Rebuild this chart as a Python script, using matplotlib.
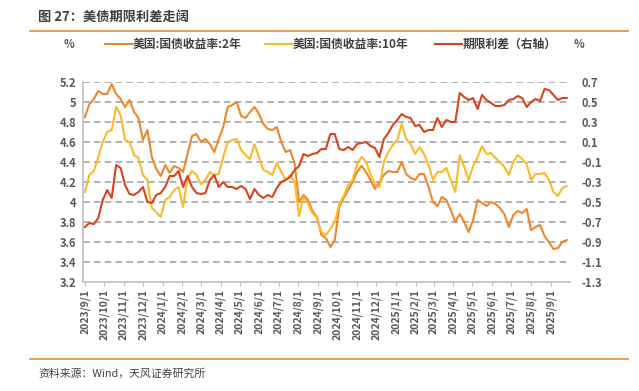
import matplotlib
matplotlib.use('Agg')
import matplotlib.pyplot as plt
from matplotlib.lines import Line2D
import numpy as np
import pandas as pd

plt.rcParams['font.family'] = ['Noto Sans CJK SC', 'DejaVu Sans']

# weekly readings, starting 2023-09-01
dates = pd.date_range('2023-09-01', periods=109, freq='7D')

yield_2y = [
    4.85, 4.98, 5.03, 5.11, 5.08, 5.08, 5.18, 5.08, 5.03, 4.95,
    5.02, 4.90, 4.84, 4.62, 4.72, 4.45, 4.33, 4.26, 4.37, 4.29,
    4.36, 4.34, 4.30, 4.48, 4.66, 4.68, 4.60, 4.63, 4.58, 4.50,
    4.63, 4.75, 4.95, 4.97, 5.00, 4.86, 4.84, 4.90, 4.95, 4.88,
    4.78, 4.73, 4.72, 4.75, 4.60, 4.50, 4.52, 4.38, 4.00, 4.07,
    4.02, 3.91, 3.85, 3.67, 3.64, 3.55, 3.62, 3.95, 4.04, 4.12,
    4.20, 4.30, 4.36, 4.30, 4.22, 4.13, 4.20, 4.27, 4.31, 4.30,
    4.30, 4.40, 4.28, 4.24, 4.22, 4.28, 4.28, 4.15, 4.00, 3.96,
    4.05, 4.02, 3.92, 3.80, 3.88, 3.80, 3.70, 3.82, 4.02, 3.99,
    3.96, 4.00, 3.98, 3.94, 3.88, 3.75, 3.87, 3.91, 3.89, 3.93,
    3.72, 3.75, 3.77, 3.66, 3.60, 3.53, 3.54, 3.60, 3.62,
]

yield_10y = [
    4.10, 4.27, 4.31, 4.45, 4.60, 4.70, 4.72, 4.95, 4.87, 4.62,
    4.60, 4.47, 4.44, 4.27, 4.22, 3.94, 3.90, 3.85, 4.02, 4.05,
    4.12, 4.15, 3.95, 4.24, 4.31, 4.27, 4.18, 4.22, 4.30, 4.27,
    4.28, 4.45, 4.60, 4.62, 4.63, 4.52, 4.47, 4.43, 4.58, 4.45,
    4.32, 4.30, 4.27, 4.39, 4.30, 4.22, 4.27, 4.20, 3.86, 4.05,
    3.98, 3.89, 3.84, 3.70, 3.67, 3.73, 3.80, 3.98, 4.06, 4.17,
    4.22, 4.38, 4.45, 4.40, 4.28, 4.17, 4.15, 4.40, 4.50, 4.57,
    4.62, 4.78, 4.63, 4.58, 4.48, 4.55, 4.48, 4.37, 4.22, 4.30,
    4.30, 4.34, 4.22, 4.10, 4.47, 4.35, 4.22, 4.36, 4.45, 4.56,
    4.48, 4.49, 4.44, 4.40, 4.35, 4.27, 4.40, 4.47, 4.43, 4.38,
    4.22, 4.28, 4.28, 4.29, 4.22, 4.10, 4.06, 4.14, 4.16,
]

term_spread = np.array(yield_10y) - np.array(yield_2y)

left_ticks = [3.2, 3.4, 3.6, 3.8, 4.0, 4.2, 4.4, 4.6, 4.8, 5.0, 5.2]
right_ticks = [-1.3, -1.1, -0.9, -0.7, -0.5, -0.3, -0.1, 0.1, 0.3, 0.5, 0.7]
month_ticks = pd.date_range('2023-09-01', '2025-09-01', freq='MS')

c_2y = '#F0862A'
c_10y = '#FBBA2B'
c_spread = '#D8431E'
grey_txt = '#595959'

W, H = 639, 391
fig = plt.figure(figsize=(W / 100, H / 100), dpi=100)
ax = fig.add_axes([83 / W, 1 - 282 / H, (570 - 83) / W, 200 / H])
ax2 = ax.twinx()

ax.plot(dates, yield_2y, color=c_2y, lw=1.5)
ax.plot(dates, yield_10y, color=c_10y, lw=1.5)
ax2.plot(dates, term_spread, color=c_spread, lw=1.5)

ax.set_ylim(3.2, 5.2)
ax2.set_ylim(-1.3, 0.7)
ax.set_xlim(pd.Timestamp('2023-08-29'), pd.Timestamp('2025-10-01'))

ax.set_yticks(left_ticks)
ax.set_yticklabels(['%g' % v for v in left_ticks])
ax2.set_yticks(right_ticks)
ax2.set_yticklabels(['%g' % v for v in right_ticks])

for v in left_ticks[1:]:
    ax.axhline(v, color='#A6A6A6', lw=1.2, ls=(0, (4, 2.5)), zorder=0)

ax.set_xticks(month_ticks)
ax.set_xticklabels([f'{d.year}/{d.month}/1' for d in month_ticks], rotation=90)

for a in (ax, ax2):
    for s in ('top', 'right'):
        a.spines[s].set_visible(False)
ax2.spines['left'].set_visible(False)
ax2.spines['bottom'].set_visible(False)
ax.spines['left'].set_color('#BFBFBF')
ax.spines['bottom'].set_color('#BFBFBF')
ax.spines['left'].set_linewidth(1.2)
ax.spines['bottom'].set_linewidth(1.2)

ax.tick_params(axis='y', length=0, pad=5, labelsize=8, labelcolor=grey_txt)
ax2.tick_params(axis='y', length=0, pad=8, labelsize=8, labelcolor=grey_txt)
ax.tick_params(axis='x', length=3, color='#BFBFBF', pad=2, labelsize=7.5,
               labelcolor=grey_txt)
for lab in ax.get_yticklabels() + ax2.get_yticklabels() + ax.get_xticklabels():
    lab.set_fontweight('bold')

# header, footer
fig.text(38 / W, 1 - 17 / H, '图 27：美债期限利差走阔', fontsize=9.5,
         fontweight='bold', color='#3F3F3F', va='center', ha='left')
fig.add_artist(Line2D([30 / W, 628 / W], [1 - 31 / H, 1 - 31 / H],
                      color='#F0862A', lw=1.2))
fig.add_artist(Line2D([30 / W, 628 / W], [1 - 359 / H, 1 - 359 / H],
                      color='#F0862A', lw=1.2))
fig.text(38 / W, 1 - 374 / H, '资料来源：Wind，天风证券研究所', fontsize=7.8,
         color='#404040', va='center', ha='left')

# legend row
ly = 1 - 44 / H
fig.text(69 / W, ly, '%', fontsize=8, fontweight='bold', color=grey_txt,
         ha='center', va='center')
fig.text(579 / W, ly, '%', fontsize=8, fontweight='bold', color=grey_txt,
         ha='center', va='center')
legend_items = [
    (105, c_2y, '美国:国债收益率:2年'),
    (265, c_10y, '美国:国债收益率:10年'),
    (435, c_spread, '期限利差（右轴）'),
]
for x0, col, label in legend_items:
    fig.add_artist(Line2D([x0 / W, (x0 + 27) / W], [ly, ly], color=col, lw=1.5))
    fig.text((x0 + 28) / W, ly, label, fontsize=8.5, fontweight='bold',
             color='#404040', ha='left', va='center')

fig.savefig('out.png', dpi=100)
